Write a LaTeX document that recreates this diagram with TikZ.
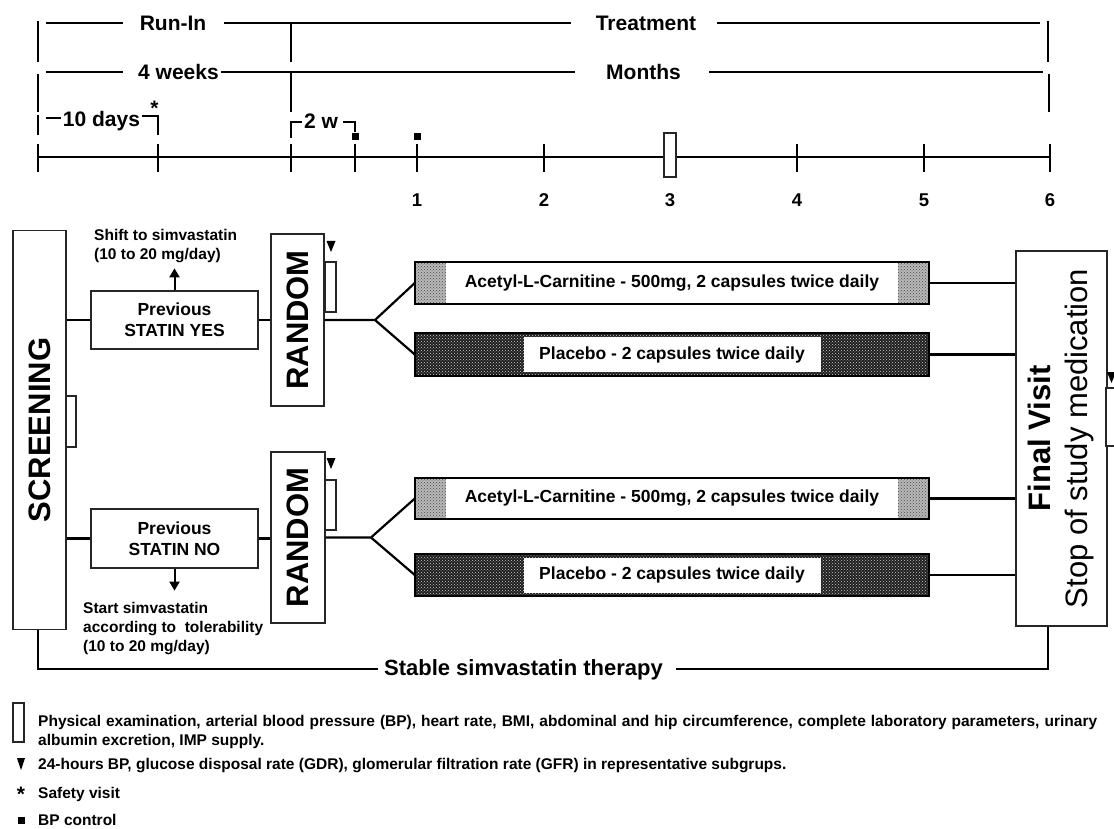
\documentclass[tikz,border=0pt]{standalone}
\usepackage{fontspec}
\setmainfont{Liberation Sans}
\usepackage{graphicx}
\usetikzlibrary{patterns,arrows.meta,calc}
\tikzset{
 ln/.style={line width=2.2pt},
 bxl/.style={draw=black!85, line width=1.3pt, fill=white, inner sep=0pt},
 thinr/.style={draw=black!85, line width=1.1pt, fill=white},
 tl/.style={font=\bfseries\fontsize{21pt}{25pt}\selectfont, inner sep=0pt, anchor=base},
 num/.style={font=\bfseries\fontsize{18.5pt}{22pt}\selectfont, inner sep=0pt, anchor=base},
 mid/.style={font=\bfseries\fontsize{17.5pt}{21pt}\selectfont, align=center},
 sm/.style={font=\bfseries\fontsize{15.5pt}{19pt}\selectfont, inner sep=0pt, align=left},
 big/.style={font=\bfseries\fontsize{31pt}{37pt}\selectfont},
 bar/.style={minimum width=514pt, inner sep=0pt},
 barline/.style={draw=black, line width=2.4pt},
 lightfill/.style={fill=black!28},
 lightdots/.style={pattern=crosshatch dots, pattern color=black!70},
 darkfill/.style={fill=black!88},
 darkdots/.style={pattern=crosshatch dots, pattern color=white!80!black},
 arr/.style={line width=2pt, -{Triangle[width=10pt,length=9pt]}},
}
\begin{document}
\begin{tikzpicture}[x=1pt,y=-1pt]
\useasboundingbox (0,0) rectangle (1114,829);

% ---------- timeline header ----------
% row 1
\node[tl] (runin) at (173,31) {Run-In};
\node[tl] (treat) at (646,31) {Treatment};
\draw[ln] (46,23) -- (123,23);
\draw[ln] (224,23) -- (571,23);
\draw[ln] (717,23) -- (1040,23);
\draw[ln] (38,21) -- (38,62);
\draw[ln] (291,23) -- (291,62);
\draw[ln] (1048,21) -- (1048,62);
% row 2
\node[tl] (weeks) at (178.5,80) {4 weeks};
\node[tl] (months) at (643.5,80) {Months};
\draw[ln] (46,72) -- (123,72);
\draw[ln] (221,72) -- (575,72);
\draw[ln] (709,72) -- (1043,72);
\draw[ln] (38,74) -- (38,112);
\draw[ln] (291,72) -- (291,112);
\draw[ln] (1049,74) -- (1049,112);
% row 3
\node[tl] (days) at (101.5,127) {10 days};
\draw[ln] (46,118) -- (61,118);
\draw[ln] (38,115) -- (38,135);
\draw[ln] (142,116) -- (158,116) -- (158,135);
\node[tl] (star) at (154.5,116) {*};
\node[tl] (twow) at (321,128.5) {2 w};
\draw[ln] (302,122) -- (291,122) -- (291,138);
\draw[ln] (343,122) -- (355,122) -- (355,132);
\fill (352,133.5) rectangle (358.5,140);
\fill (414,133.5) rectangle (420.5,140);
% axis
\draw[ln] (38,157) -- (1050,157);
\foreach \xx in {38,158,291,355,417,544,797,924,1050}
  \draw[ln] (\xx,144) -- (\xx,172);
\draw[thinr] (664,133) rectangle (676,177);
\node[num] (m1) at (417,206.5) {1};
\node[num] (m2) at (544,206.5) {2};
\node[num] (m3) at (670,206.5) {3};
\node[num] (m4) at (797,206.5) {4};
\node[num] (m5) at (924,206.5) {5};
\node[num] (m6) at (1050,206.5) {6};

% ---------- main boxes ----------
\node[bxl, minimum width=53pt, minimum height=399pt, big] (screen) at (39.5,430) {\rotatebox{90}{SCREENING}};
\draw[thinr] (66,396) rectangle (76,447);

\node[bxl, minimum width=167pt, minimum height=58pt, mid] (pyes) at (174.5,320) {Previous\\STATIN YES};
\node[bxl, minimum width=167pt, minimum height=59pt, mid] (pno) at (174.5,538.5) {Previous\\STATIN NO};

\node[bxl, minimum width=53pt, minimum height=172pt, big] (r1) at (297.5,320) {\rotatebox{90}{RANDOM}};
\node[bxl, minimum width=54pt, minimum height=171pt, big] (r2) at (298,537.5) {\rotatebox{90}{RANDOM}};
\draw[thinr] (325,262) rectangle (336,312);
\draw[thinr] (325,480) rectangle (336,530);
\fill (326.5,241) -- (335.5,241) -- (331,252) -- cycle;
\fill (326.5,458) -- (335.5,458) -- (331,469) -- cycle;

% annotations
\node[sm, anchor=base west] (shift) at (94,259) {Shift to simvastatin\\(10 to 20 mg/day)};
\node[sm, anchor=base west] (start) at (83,651.5) {Start simvastatin\\according to\ \ tolerability\\(10 to 20 mg/day)};
\draw[arr] (pyes.north) -- ++(0,-22);
\draw[arr] (pno.south) -- ++(0,22);

% ---------- bars ----------
\node[bar, minimum height=42pt] (a1) at (672,283) {};
\node[bar, minimum height=43pt] (p1) at (672,354.5) {};
\node[bar, minimum height=41pt] (a2) at (672,498.5) {};
\node[bar, minimum height=42pt] (p2) at (672,575) {};

\foreach \b in {a1,a2}{
  \fill[lightfill] (\b.north west) rectangle ([xshift=31pt]\b.south west);
  \fill[lightdots] (\b.north west) rectangle ([xshift=31pt]\b.south west);
  \fill[lightfill] ([xshift=-31pt]\b.north east) rectangle (\b.south east);
  \fill[lightdots] ([xshift=-31pt]\b.north east) rectangle (\b.south east);
}
\foreach \b in {p1,p2}{
  \fill[darkfill] (\b.north west) rectangle (\b.south east);
  \fill[darkdots] (\b.north west) rectangle (\b.south east);
}
\node[mid] (a1t) at (a1.center) {Acetyl-L-Carnitine - 500mg, 2 capsules twice daily};
\node[mid] (a2t) at (a2.center) {Acetyl-L-Carnitine - 500mg, 2 capsules twice daily};
\node[mid, fill=white, minimum width=297pt, minimum height=35pt, inner sep=0pt] (p1t) at (p1.center) {Placebo - 2 capsules twice daily};
\node[mid, fill=white, minimum width=297pt, minimum height=35pt, inner sep=0pt] (p2t) at (p2.center) {Placebo - 2 capsules twice daily};
\foreach \b in {a1,p1,a2,p2}
  \draw[barline] (\b.north west) rectangle (\b.south east);

% ---------- final visit ----------
\node[bxl, minimum width=91pt, minimum height=375pt] (fv) at (1061.5,438.5)
  {\rotatebox{90}{\fontsize{31pt}{37pt}\selectfont\begin{tabular}{@{}c@{}}\bfseries Final Visit\\ Stop of study medication\end{tabular}}};
\draw[thinr] (1106,388) rectangle (1122,446);
\fill (1107,372) -- (1116,372) -- (1111.5,383) -- cycle;

% ---------- connectors ----------
\draw[ln] (screen.east |- pyes.west) -- (pyes.west);
\draw[ln] (pyes.east) -- (r1.west |- pyes.east);
\draw[ln] (screen.east |- pno.west) -- (pno.west);
\draw[ln] (pno.east) -- (r2.west |- pno.east);
\coordinate (b1) at (375,320);
\coordinate (b2) at (371,537.5);
\draw[ln] (r1.east |- b1) -- (b1) -- (a1.west);
\draw[ln] (b1) -- (p1.west);
\draw[ln] (r2.east |- b2) -- (b2) -- (a2.west);
\draw[ln] (b2) -- (p2.west);
\foreach \b in {a1,p1,a2,p2}
  \draw[ln] (\b.east) -- (fv.west |- \b.east);

% ---------- stable simvastatin ----------
\node[font=\bfseries\fontsize{22pt}{26pt}\selectfont, inner sep=0pt, anchor=base] (st) at (523.5,675) {Stable simvastatin therapy};
\coordinate (sl) at (38,669);
\coordinate (sr) at (1048,669);
\draw[ln] (screen.south -| sl) -- (sl) -- ($(sl -| st.west)+(-6,0)$);
\draw[ln] ($(sr -| st.east)+(13,0)$) -- (sr) -- (fv.south -| sr);

% ---------- legend ----------
\draw[thinr] (13,703) rectangle (24,742);
\node[sm, anchor=base west] (lg1) at (38,726) {\makebox[1059pt][s]{Physical examination, arterial blood pressure (BP), heart rate, BMI, abdominal and hip circumference, complete laboratory parameters, urinary}};
\node[sm, anchor=base west] (lg2) at (38,745.5) {albumin excretion, IMP supply.};
\fill (17,758) -- (25,758) -- (21,770) -- cycle;
\node[sm, anchor=base west] (lg3) at (38,769) {24-hours BP, glucose disposal rate (GDR), glomerular filtration rate (GFR) in representative subgrups.};
\node[font=\bfseries\fontsize{21pt}{25pt}\selectfont, inner sep=0pt, anchor=base] (lgs) at (21,801) {*};
\node[sm, anchor=base west] (lg4) at (38,798) {Safety visit};
\fill (18,817) rectangle (24.5,823.5);
\node[sm, anchor=base west] (lg5) at (38,825.5) {BP control};
\end{tikzpicture}
\end{document}
